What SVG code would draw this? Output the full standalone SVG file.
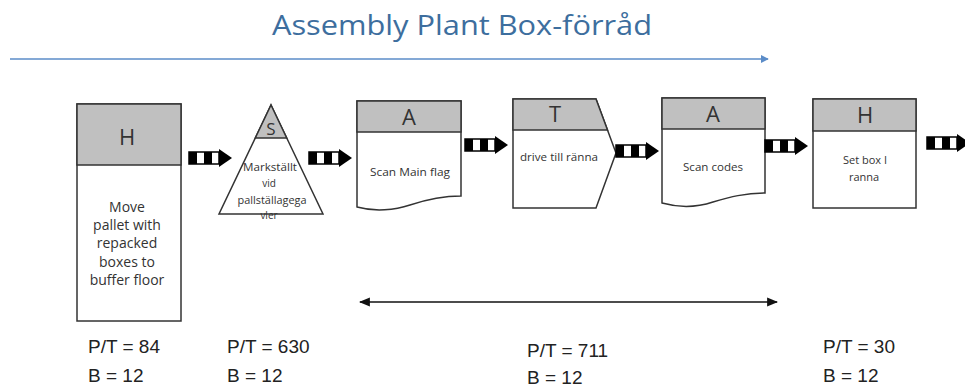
<svg xmlns="http://www.w3.org/2000/svg" width="965" height="389" viewBox="0 0 965 389">
<style>
.t{font-family:"Open Sans","Liberation Sans",sans-serif;}
.title{font-size:28px;fill:#3d6e9e;}
.shape{fill:#fff;stroke:#333;stroke-width:1.5;}
.hdr{fill:#c0c0c0;stroke:#333;stroke-width:1.5;}
.letter{font-size:22px;fill:#333;text-anchor:middle;}
.body{font-size:14px;fill:#333;text-anchor:middle;}
.small{font-size:11px;fill:#333;text-anchor:middle;}
.tiny{font-size:10px;fill:#333;text-anchor:middle;}
.stat{font-family:"Liberation Sans","Open Sans",sans-serif;font-size:19px;fill:#222;}
</style>
<defs>
<g id="push">
<rect x="0" y="-6" width="30" height="12" fill="#fff" stroke="#000" stroke-width="1.5"/>
<rect x="0" y="-6" width="8" height="12" fill="#000"/>
<rect x="15" y="-6" width="8" height="12" fill="#000"/>
<path d="M30,-9 L43,0 L30,9 Z" fill="#000"/>
</g>
<marker id="bh" viewBox="0 0 10 10" refX="9" refY="5" markerWidth="8" markerHeight="8" markerUnits="userSpaceOnUse" orient="auto"><path d="M0,0 L10,5 L0,10 Z" fill="#5b8cc8"/></marker>
<marker id="ah" viewBox="0 0 10 10" refX="9" refY="5" markerWidth="11" markerHeight="11" markerUnits="userSpaceOnUse" orient="auto-start-reverse"><path d="M0,1 L10,5 L0,9 Z" fill="#111"/></marker>
</defs>
<rect width="965" height="389" fill="#fff"/>
<text class="t title" x="272" y="35" textLength="380" lengthAdjust="spacingAndGlyphs">Assembly Plant Box-förråd</text>
<line x1="10" y1="59" x2="768" y2="59" stroke="#5b8cc8" stroke-width="1.5" marker-end="url(#bh)"/>

<g id="n1">
<rect class="shape" x="77" y="104" width="104" height="217"/>
<rect class="hdr" x="77" y="104" width="104" height="61"/>
<text class="t letter" x="127" y="145">H</text>
<text class="t body" x="127" y="212">Move</text>
<text class="t body" x="127" y="230">pallet with</text>
<text class="t body" x="127" y="248">repacked</text>
<text class="t body" x="127" y="267">boxes to</text>
<text class="t body" x="127" y="285">buffer floor</text>
</g>

<g id="n2">
<path class="shape" d="M271,105 L323,214 L219,214 Z"/>
<path class="hdr" d="M271,105 L286.7,138 L255.3,138 Z"/>
<text class="t" x="271" y="135" font-size="17" fill="#333" text-anchor="middle">S</text>
<text class="t tiny" x="270" y="171" textLength="54" lengthAdjust="spacingAndGlyphs">Markställt</text>
<text class="t tiny" x="269" y="187">vid</text>
<text class="t tiny" x="272" y="204" textLength="69" lengthAdjust="spacingAndGlyphs">pallställagega</text>
<text class="t tiny" x="269" y="219">vler</text>
</g>

<g id="n3">
<path class="shape" d="M357,101 H461 V196 C440,196 425,200 410,205 C395,210 375,212 357,207 Z"/>
<rect class="hdr" x="357" y="101" width="104" height="31"/>
<text class="t letter" x="409" y="125">A</text>
<text class="t small" x="410" y="176" textLength="80" lengthAdjust="spacingAndGlyphs">Scan Main flag</text>
</g>

<g id="n4">
<path class="shape" d="M513,99 H596 L616,153 L596,208 H513 Z"/>
<path class="hdr" d="M513,99 H596 L607.5,130 H513 Z"/>
<text class="t letter" x="555" y="122">T</text>
<text class="t small" x="559" y="161" textLength="78" lengthAdjust="spacingAndGlyphs">drive till ränna</text>
</g>

<g id="n5">
<path class="shape" d="M662,98 H765 V193 C745,193 730,197 713,202 C698,207 680,208 662,203 Z"/>
<rect class="hdr" x="662" y="98" width="103" height="31"/>
<text class="t letter" x="713" y="122">A</text>
<text class="t small" x="713" y="171" textLength="60" lengthAdjust="spacingAndGlyphs">Scan codes</text>
</g>

<g id="n6">
<rect class="shape" x="813" y="99" width="103" height="109"/>
<rect class="hdr" x="813" y="99" width="103" height="32"/>
<text class="t letter" x="865" y="123">H</text>
<text class="t small" x="865" y="164">Set box I</text>
<text class="t small" x="864" y="181">ranna</text>
</g>

<g id="connectors">
<use href="#push" x="189" y="158"/>
<use href="#push" x="309" y="158"/>
<use href="#push" x="465" y="145"/>
<use href="#push" x="616" y="151"/>
<use href="#push" x="765" y="146"/>
<use href="#push" x="927" y="143"/>
<line x1="360" y1="302" x2="777" y2="302" stroke="#111" stroke-width="1.5" marker-start="url(#ah)" marker-end="url(#ah)"/>
</g>

<g id="stats">
<text class="stat" x="88" y="353">P/T = 84</text>
<text class="stat" x="88" y="382">B = 12</text>
<text class="stat" x="227" y="353">P/T = 630</text>
<text class="stat" x="227" y="382">B = 12</text>
<text class="stat" x="527" y="357">P/T = 711</text>
<text class="stat" x="527" y="384">B = 12</text>
<text class="stat" x="823" y="353">P/T = 30</text>
<text class="stat" x="823" y="382">B = 12</text>
</g>
</svg>
